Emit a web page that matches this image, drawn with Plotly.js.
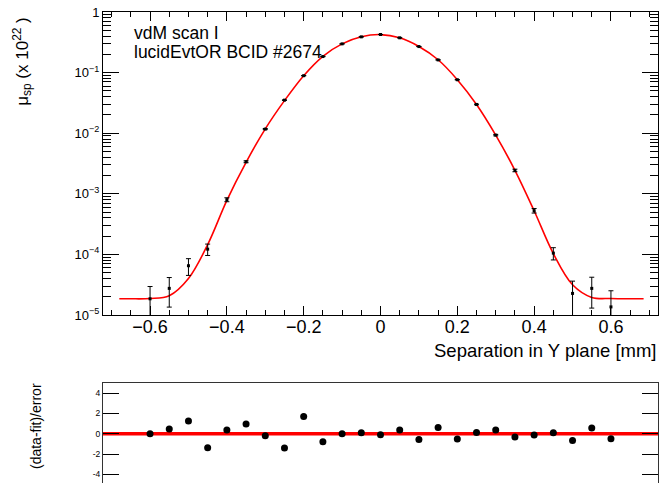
<!DOCTYPE html>
<html><head><meta charset="utf-8">
<script src="https://cdn.plot.ly/plotly-3.0.1.min.js"></script>
<style>html,body{margin:0;padding:0;background:#fff;}#chart{width:659px;height:483px;}</style>
</head><body><div id="chart"></div>
<script>
// Separation values (mm) of the scan points
const sepX = [-0.6,-0.55,-0.5,-0.45,-0.4,-0.35,-0.3,-0.25,-0.2,-0.15,-0.1,-0.05,0,0.05,0.1,0.15,0.2,0.25,0.3,0.35,0.4,0.45,0.5,0.55,0.6];
// Specific visible interaction rate (x 1e22)
const muData = [1.85e-5,2.75e-5,6.5e-5,1.22e-4,8.0e-4,3.38e-3,1.17e-2,3.51e-2,8.89e-2,0.184,0.298,0.389,0.425,0.375,0.269,0.162,0.0762,0.0298,0.0093,2.43e-3,5.26e-4,1.05e-4,2.27e-5,2.75e-5,1.36e-5];
const muErr = [1.1e-5,1.4e-5,2.0e-5,2.6e-5,6e-5,1.2e-4,2.5e-4,4e-4,6e-4,1e-3,1.2e-3,1.4e-3,1.5e-3,1.4e-3,1.2e-3,1e-3,6e-4,4e-4,2.5e-4,1.2e-4,4.5e-5,2.4e-5,1.35e-5,1.45e-5,1.15e-5];
// Fit curve
const fitX = [-0.68,-0.65,-0.6,-0.55,-0.5,-0.45,-0.4,-0.35,-0.3,-0.25,-0.2,-0.15,-0.1,-0.05,0,0.05,0.1,0.15,0.2,0.25,0.3,0.35,0.4,0.45,0.5,0.55,0.6,0.65,0.685];
const fitY = [1.85e-5,1.85e-5,1.87e-5,2.08e-5,4.0e-5,1.45e-4,7.8e-4,3.3e-3,1.18e-2,3.45e-2,8.9e-2,0.186,0.298,0.39,0.424,0.375,0.27,0.163,0.0765,0.0298,0.0093,2.44e-3,5.25e-4,1.03e-4,3.15e-5,1.95e-5,1.87e-5,1.85e-5,1.85e-5];
// Residuals (data-fit)/error
const pullY = [0.0,0.46,1.25,-1.38,0.36,0.95,-0.2,-1.41,1.7,-0.79,0.0,0.1,-0.1,0.36,-0.56,0.62,-0.52,0.13,0.36,-0.33,-0.13,0.1,-0.66,0.56,-0.49];
// Tick labels
const yTickVals = [1e-5,1e-4,1e-3,1e-2,1e-1,1];
const yTickText = ['10<sup>−5</sup>','10<sup>−4</sup>','10<sup>−3</sup>','10<sup>−2</sup>','10<sup>−1</sup>','1'];
const pullTickVals = [-4,-2,0,2,4];
const pullTickText = ['-4','-2','0','2','4'];

const minorLog = [];
for (let e = -5; e < 0; e++) for (let d = 2; d <= 9; d++) minorLog.push(d * Math.pow(10, e));

const FONT = '"Liberation Sans", Arial, sans-serif';
const XR = [-0.7225, 0.7225];

const traces = [
  {x: fitX, y: fitY, type: 'scatter', mode: 'lines', line: {color: '#ff0000', width: 1.6, shape: 'spline', smoothing: 1}, xaxis: 'x', yaxis: 'y', hoverinfo: 'skip'},
  {x: sepX, y: muData, type: 'scatter', mode: 'markers', marker: {symbol: 'square', size: 3, color: '#000'},
   error_y: {type: 'data', array: muErr, visible: true, color: '#000', thickness: 1, width: 2.5}, xaxis: 'x', yaxis: 'y'},
  {x: sepX, y: pullY, type: 'scatter', mode: 'markers', marker: {symbol: 'circle', size: 7, color: '#000'}, xaxis: 'x2', yaxis: 'y2'}
];

const layout = {
  width: 659, height: 483,
  margin: {l: 103, r: 1, t: 12, b: 0, pad: 0},
  paper_bgcolor: '#fff', plot_bgcolor: '#fff',
  showlegend: false,
  font: {family: FONT, color: '#000'},
  xaxis: {domain: [0, 1], anchor: 'y', range: XR, tick0: 0, dtick: 0.2, ticks: 'inside', ticklen: 9, tickwidth: 1, tickcolor: '#000',
    showline: true, linecolor: '#000', linewidth: 1, mirror: 'allticks', showgrid: false, zeroline: false,
    tickfont: {size: 18, family: FONT}, ticklabelstandoff: -5,
    minor: {tick0: 0, dtick: 0.05, ticks: 'inside', ticklen: 5, tickwidth: 1, tickcolor: '#000', showgrid: false}},
  yaxis: {domain: [0.3567, 1], anchor: 'x', type: 'log', range: [-5, 0], tickmode: 'array', tickvals: yTickVals, ticktext: yTickText,
    ticks: 'inside', ticklen: 16, tickwidth: 1, tickcolor: '#000', showline: true, linecolor: '#000', linewidth: 1, mirror: 'allticks',
    showgrid: false, zeroline: false, tickfont: {size: 13, family: FONT},
    minor: {tickmode: 'array', tickvals: minorLog, ticks: 'inside', ticklen: 8, tickwidth: 1, tickcolor: '#000', showgrid: false}},
  xaxis2: {domain: [0, 1], anchor: 'y2', range: XR, showticklabels: false, ticks: '', showline: true, linecolor: '#333', linewidth: 1,
    mirror: true, showgrid: false, zeroline: false},
  yaxis2: {domain: [0, 0.2123], anchor: 'x2', range: [-4.85, 5], tickmode: 'array', tickvals: pullTickVals, ticktext: pullTickText,
    ticks: 'inside', ticklen: 16, tickwidth: 1, tickcolor: '#000', showline: true, linecolor: '#333', linewidth: 1, mirror: 'allticks',
    showgrid: false, zeroline: false, tickfont: {size: 8.5, family: FONT}},
  shapes: [{type: 'line', xref: 'x2 domain', x0: 0, x1: 1, yref: 'y2', y0: 0, y1: 0, line: {color: '#ff0000', width: 3.5}, layer: 'below'}],
  annotations: [
    {text: 'vdM scan I', xref: 'paper', yref: 'paper', x: 0.0514, y: 0.9554, xanchor: 'left', yanchor: 'middle', showarrow: false, font: {size: 17.5, family: FONT, color: '#000'}},
    {text: 'lucidEvtOR BCID #2674', xref: 'paper', yref: 'paper', x: 0.0514, y: 0.9151, xanchor: 'left', yanchor: 'middle', showarrow: false, font: {size: 17.5, family: FONT, color: '#000'}},
    {text: 'Separation in Y plane [mm]', xref: 'paper', yref: 'paper', x: 1, y: 0.2803, xanchor: 'right', yanchor: 'middle', showarrow: false, font: {size: 18.5, family: FONT, color: '#000'}},
    {text: 'μ<sub>sp</sub> (x 10<sup>22</sup> )', xref: 'paper', yref: 'paper', x: -0.1455, y: 0.9936, xanchor: 'center', yanchor: 'top', textangle: -90, showarrow: false, font: {size: 17, family: FONT, color: '#000'}},
    {text: '(data-fit)/error', xref: 'paper', yref: 'paper', x: -0.1207, y: 0.121, xanchor: 'center', yanchor: 'middle', textangle: -90, showarrow: false, font: {size: 14, family: FONT, color: '#000'}}
  ]
};

Plotly.newPlot('chart', traces, layout, {displayModeBar: false, staticPlot: true});
</script>
</body></html>
